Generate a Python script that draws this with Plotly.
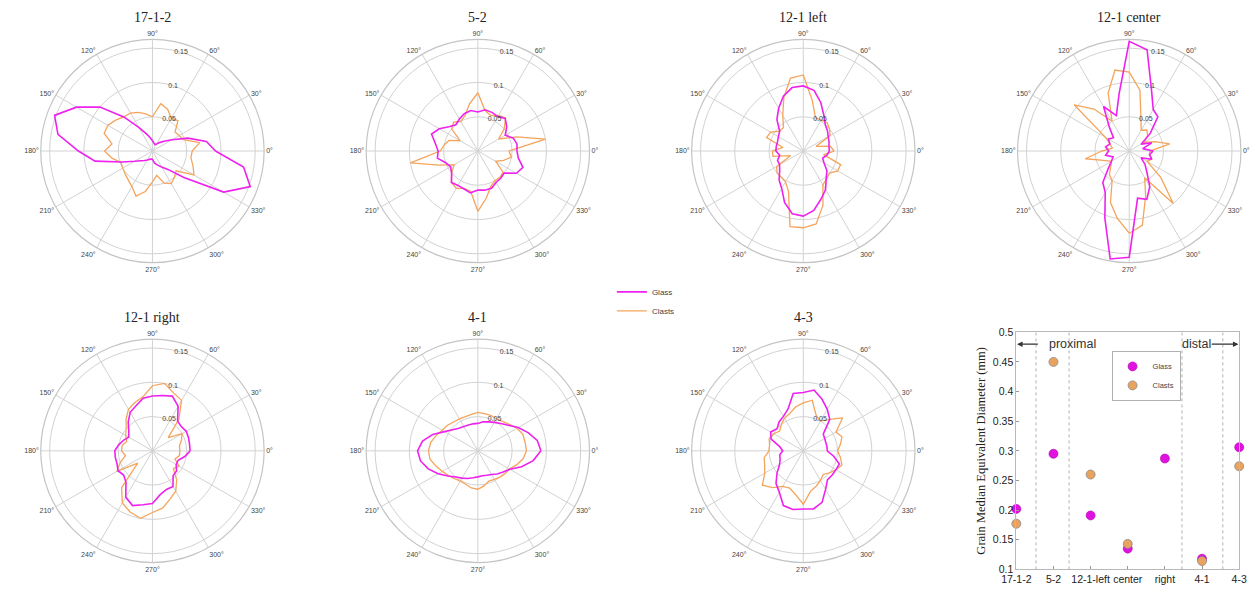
import plotly.graph_objects as go

# ---- orientation roses: relative frequency per 10-degree direction ----
angles = list(range(0, 360, 10))

glass_17_1_2 = [0.092, 0.080, 0.055, 0.033, 0.022, 0.016, 0.012, 0.010, 0.012, 0.015,
                0.020, 0.027, 0.040, 0.065, 0.100, 0.128, 0.152, 0.140, 0.108, 0.085,
                0.047, 0.030, 0.022, 0.018, 0.015, 0.013, 0.012, 0.012, 0.018, 0.022,
                0.027, 0.035, 0.060, 0.120, 0.152, 0.135]
clasts_17_1_2 = [0.058, 0.070, 0.048, 0.045, 0.043, 0.058, 0.055, 0.065, 0.070, 0.050,
                 0.055, 0.060, 0.064, 0.065, 0.070, 0.075, 0.075, 0.060, 0.070, 0.060,
                 0.049, 0.050, 0.052, 0.055, 0.060, 0.070, 0.060, 0.045, 0.036, 0.050,
                 0.055, 0.050, 0.045, 0.070, 0.063, 0.057]

glass_5_2 = [0.057, 0.058, 0.055, 0.046, 0.055, 0.062, 0.058, 0.060, 0.061, 0.057,
             0.060, 0.058, 0.054, 0.050, 0.055, 0.065, 0.072, 0.063, 0.058, 0.060,
             0.050, 0.046, 0.050, 0.060, 0.058, 0.059, 0.062, 0.057, 0.058, 0.058,
             0.053, 0.052, 0.050, 0.065, 0.070, 0.060]
clasts_5_2 = [0.045, 0.100, 0.060, 0.035, 0.050, 0.063, 0.060, 0.055, 0.060, 0.085,
              0.070, 0.055, 0.050, 0.055, 0.050, 0.030, 0.045, 0.050, 0.055, 0.100,
              0.060, 0.040, 0.050, 0.060, 0.063, 0.058, 0.060, 0.088, 0.070, 0.055,
              0.050, 0.050, 0.048, 0.030, 0.040, 0.050]

glass_12_1_left = [0.038, 0.038, 0.040, 0.042, 0.046, 0.050, 0.060, 0.075, 0.090, 0.095,
                   0.094, 0.085, 0.072, 0.060, 0.045, 0.042, 0.040, 0.040, 0.040, 0.035,
                   0.040, 0.040, 0.045, 0.055, 0.063, 0.080, 0.093, 0.095, 0.088, 0.075,
                   0.065, 0.052, 0.045, 0.035, 0.030, 0.035]
clasts_12_1_left = [0.045, 0.040, 0.020, 0.045, 0.050, 0.054, 0.052, 0.052, 0.075, 0.111,
                    0.108, 0.083, 0.060, 0.045, 0.045, 0.055, 0.057, 0.030, 0.045, 0.045,
                    0.020, 0.045, 0.050, 0.050, 0.052, 0.063, 0.112, 0.112, 0.108, 0.084,
                    0.057, 0.053, 0.050, 0.058, 0.058, 0.030]

glass_12_1_center = [0.035, 0.020, 0.035, 0.020, 0.040, 0.065, 0.070, 0.095, 0.150, 0.160,
                     0.085, 0.055, 0.075, 0.045, 0.030, 0.035, 0.030, 0.035, 0.030, 0.035,
                     0.025, 0.030, 0.040, 0.060, 0.070, 0.104, 0.160, 0.155, 0.070, 0.075,
                     0.060, 0.040, 0.030, 0.020, 0.035, 0.030]
clasts_12_1_center = [0.030, 0.060, 0.040, 0.025, 0.035, 0.040, 0.035, 0.050, 0.090, 0.115,
                      0.120, 0.090, 0.050, 0.080, 0.105, 0.040, 0.030, 0.025, 0.040, 0.065,
                      0.040, 0.030, 0.035, 0.045, 0.050, 0.080, 0.100, 0.120, 0.110, 0.070,
                      0.045, 0.100, 0.060, 0.030, 0.035, 0.030]

glass_12_1_right = [0.055, 0.055, 0.056, 0.057, 0.055, 0.057, 0.075, 0.085, 0.082, 0.080,
                    0.078, 0.070, 0.065, 0.055, 0.045, 0.040, 0.045, 0.050, 0.055, 0.055,
                    0.055, 0.058, 0.055, 0.060, 0.078, 0.085, 0.080, 0.077, 0.065, 0.060,
                    0.060, 0.047, 0.046, 0.040, 0.040, 0.048]
clasts_12_1_right = [0.040, 0.040, 0.045, 0.050, 0.030, 0.060, 0.085, 0.090, 0.100, 0.095,
                     0.080, 0.075, 0.070, 0.060, 0.050, 0.045, 0.040, 0.045, 0.045, 0.040,
                     0.050, 0.060, 0.028, 0.070, 0.088, 0.095, 0.100, 0.090, 0.085, 0.075,
                     0.068, 0.055, 0.040, 0.045, 0.035, 0.040]

glass_4_1 = [0.092, 0.088, 0.078, 0.068, 0.058, 0.052, 0.048, 0.045, 0.043, 0.040,
             0.040, 0.040, 0.041, 0.043, 0.048, 0.056, 0.070, 0.082, 0.088, 0.085,
             0.077, 0.067, 0.057, 0.050, 0.046, 0.043, 0.040, 0.038, 0.037, 0.038,
             0.040, 0.044, 0.048, 0.054, 0.068, 0.082]
clasts_4_1 = [0.071, 0.070, 0.070, 0.066, 0.060, 0.056, 0.054, 0.055, 0.055, 0.056,
              0.054, 0.053, 0.054, 0.055, 0.058, 0.060, 0.065, 0.070, 0.072, 0.071,
              0.065, 0.060, 0.056, 0.053, 0.051, 0.052, 0.055, 0.056, 0.052, 0.047,
              0.048, 0.050, 0.052, 0.053, 0.060, 0.067]

glass_4_3 = [0.035, 0.035, 0.035, 0.036, 0.038, 0.060, 0.070, 0.080, 0.090, 0.085,
             0.085, 0.065, 0.058, 0.055, 0.050, 0.055, 0.050, 0.035, 0.030, 0.035,
             0.036, 0.040, 0.050, 0.062, 0.070, 0.085, 0.087, 0.085, 0.086, 0.080,
             0.065, 0.055, 0.055, 0.055, 0.056, 0.045]
clasts_4_3 = [0.050, 0.055, 0.060, 0.055, 0.075, 0.060, 0.050, 0.055, 0.075, 0.070,
              0.065, 0.058, 0.055, 0.050, 0.045, 0.050, 0.053, 0.050, 0.050, 0.058,
              0.060, 0.065, 0.078, 0.070, 0.060, 0.058, 0.065, 0.078, 0.060, 0.055,
              0.050, 0.045, 0.050, 0.055, 0.060, 0.055]

sample_titles = ["17-1-2", "5-2", "12-1 left", "12-1 center", "12-1 right", "4-1", "4-3"]
glass_roses = [glass_17_1_2, glass_5_2, glass_12_1_left, glass_12_1_center,
               glass_12_1_right, glass_4_1, glass_4_3]
clasts_roses = [clasts_17_1_2, clasts_5_2, clasts_12_1_left, clasts_12_1_center,
                clasts_12_1_right, clasts_4_1, clasts_4_3]

# ---- grain size summary ----
grain_sites = ["17-1-2", "5-2", "12-1-left", "center", "right", "4-1", "4-3"]
glass_median = [0.202, 0.295, 0.191, 0.135, 0.287, 0.118, 0.306]
clasts_median = [0.177, 0.450, 0.260, 0.143, 0.395, 0.114, 0.274]

# ---- styling ----
W, H = 1257, 594
R = 114
MAGENTA = "#ee22ee"
ORANGE = "#f5a45c"
GRID = "#d2d2d2"
TICK_FONT = dict(family="Liberation Sans, Arial, sans-serif", size=7, color="#444")
SERIF = "Liberation Serif, Times New Roman, serif"
SANS = "Liberation Sans, Arial, sans-serif"

centers = [(140, 148), (471.5, 148), (803, 148), (1135, 148),
           (140, 454), (471.5, 454), (803, 454)]

fig = go.Figure()
layout = dict()
annotations = []

for i, (title, g, c) in enumerate(zip(sample_titles, glass_roses, clasts_roses)):
    pid = "polar" if i == 0 else f"polar{i + 1}"
    theta = angles + angles[:1]
    fig.add_trace(go.Scatterpolar(
        r=c + c[:1], theta=theta, mode="lines", name="Clasts",
        line=dict(color=ORANGE, width=1.3), subplot=pid,
        showlegend=False, legend="legend"))
    fig.add_trace(go.Scatterpolar(
        r=g + g[:1], theta=theta, mode="lines", name="Glass",
        line=dict(color=MAGENTA, width=1.6), subplot=pid,
        showlegend=False, legend="legend"))

    cx, cy = centers[i]
    layout[pid] = dict(
        domain=dict(x=[(cx - R) / W, (cx + R) / W],
                    y=[(H - cy - R) / H, (H - cy + R) / H]),
        bgcolor="white",
        radialaxis=dict(range=[0, 0.163], tickmode="array",
                        tickvals=[0.05, 0.1, 0.15], ticktext=["0.05", "0.1", "0.15"],
                        angle=80, tickangle=80, showline=False, ticks="",
                        gridcolor=GRID, gridwidth=1, tickfont=TICK_FONT),
        angularaxis=dict(direction="counterclockwise", rotation=0,
                         tickmode="array", tickvals=list(range(0, 360, 30)),
                         ticktext=[f"{a}°" for a in range(0, 360, 30)],
                         ticks="", gridcolor=GRID, gridwidth=1,
                         linecolor="#c4c4c4", linewidth=1.2, tickfont=TICK_FONT),
    )
    annotations.append(dict(
        text=title, x=cx / W, y=(H - (cy - R - 22)) / H, xref="paper", yref="paper",
        xanchor="center", yanchor="middle", showarrow=False,
        font=dict(family=SERIF, size=14, color="#222")))

# legend entries for the roses (drawn once)
fig.add_trace(go.Scatterpolar(r=[None], theta=[None], mode="lines", name="Glass",
                              line=dict(color=MAGENTA, width=1.6), subplot="polar",
                              legend="legend"))
fig.add_trace(go.Scatterpolar(r=[None], theta=[None], mode="lines", name="Clasts",
                              line=dict(color=ORANGE, width=1.3), subplot="polar",
                              legend="legend"))

# ---- grain median diameter panel ----
fig.add_trace(go.Scatter(
    x=grain_sites, y=glass_median, mode="markers", name="Glass",
    marker=dict(size=9, color="#e012e0", line=dict(width=0.6, color="#b000b0")),
    cliponaxis=False, xaxis="x", yaxis="y", legend="legend2"))
fig.add_trace(go.Scatter(
    x=grain_sites, y=clasts_median, mode="markers", name="Clasts",
    marker=dict(size=9, color="#eaa35f", line=dict(width=0.8, color="#8a8a8a")),
    cliponaxis=False, xaxis="x", yaxis="y", legend="legend2"))

x0, x1 = 1020, 1247
y_top, y_bot = 333, 575
layout["xaxis"] = dict(domain=[x0 / W, x1 / W], anchor="y", type="category",
                       range=[0, 6], showline=True, mirror=True, linecolor="#b8b8b8",
                       ticks="inside", ticklen=3, tickcolor="#999", showgrid=False,
                       tickfont=dict(family=SANS, size=10.5, color="#222"))
layout["yaxis"] = dict(domain=[(H - y_bot) / H, (H - y_top) / H], anchor="x",
                       range=[0.1, 0.5], dtick=0.05, tick0=0.1,
                       showline=True, mirror=True, linecolor="#b8b8b8",
                       ticks="inside", ticklen=3, tickcolor="#999", showgrid=False,
                       zeroline=False, tickformat="~g",
                       tickfont=dict(family=SANS, size=10.5, color="#222"),
                       title=dict(text="Grain Median Equivalent Diameter (mm)",
                                  font=dict(family=SERIF, size=12.5, color="#222"),
                                  standoff=4))

shapes = []
for xv in [0.53, 1.42, 4.46, 5.56]:
    shapes.append(dict(type="line", xref="x", yref="y", x0=xv, x1=xv, y0=0.1, y1=0.5,
                       line=dict(color="#b0b0b0", width=1, dash="dot")))

annotations += [
    dict(x=0.02, y=0.48, ax=0.62, ay=0.48, xref="x", yref="y", axref="x", ayref="y",
         text="", showarrow=True, arrowhead=2, arrowsize=1, arrowwidth=1.1,
         arrowcolor="#333"),
    dict(x=1.5, y=0.48, xref="x", yref="y", text="proximal", showarrow=False,
         font=dict(family=SANS, size=12.5, color="#333")),
    dict(x=5.98, y=0.48, ax=5.22, ay=0.48, xref="x", yref="y", axref="x", ayref="y",
         text="", showarrow=True, arrowhead=2, arrowsize=1, arrowwidth=1.1,
         arrowcolor="#333"),
    dict(x=4.84, y=0.48, xref="x", yref="y", text="distal", showarrow=False,
         font=dict(family=SANS, size=12.5, color="#333")),
]

fig.update_layout(
    width=W, height=H,
    margin=dict(l=0, r=0, t=0, b=0),
    paper_bgcolor="white", plot_bgcolor="white",
    shapes=shapes, annotations=annotations,
    legend=dict(x=608 / W, y=(H - 277) / H, xanchor="left", yanchor="top",
                bgcolor="rgba(0,0,0,0)", font=dict(family=SANS, size=8, color="#444"),
                itemwidth=30, tracegroupgap=0),
    legend2=dict(x=1117 / W, y=(H - 352) / H, xanchor="left", yanchor="top",
                 bgcolor="white", bordercolor="#b0b0b0", borderwidth=1,
                 font=dict(family=SANS, size=7.5, color="#444"), itemwidth=30),
    **layout,
)

fig.write_html("out.html")
